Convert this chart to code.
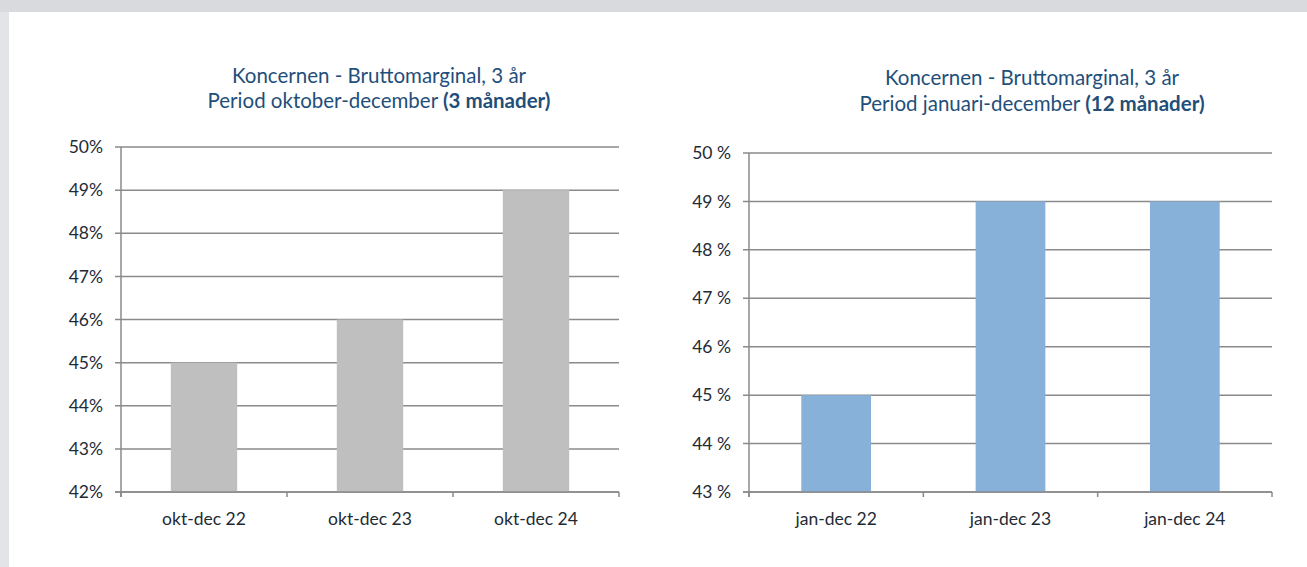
<!DOCTYPE html>
<html>
<head>
<meta charset="utf-8">
<script src="https://cdn.jsdelivr.net/npm/d3@7"></script>
<style>
  body { margin: 0; background: #e3e4e7; }
  svg { display: block; }
  text { font-family: Lato, "Open Sans", sans-serif; }
</style>
</head>
<body>
<div class="container"></div>
<script>
// data
var leftCategories = ["okt-dec 22", "okt-dec 23", "okt-dec 24"];
var leftValues = [45, 46, 49];
var leftTicks = [42, 43, 44, 45, 46, 47, 48, 49, 50];

var rightCategories = ["jan-dec 22", "jan-dec 23", "jan-dec 24"];
var rightValues = [45, 49, 49];
var rightTicks = [43, 44, 45, 46, 47, 48, 49, 50];

var titleLine1 = "Koncernen - Bruttomarginal, 3 år";
var leftTitle2 = ["Period oktober-december ", "(3 månader)"];
var rightTitle2 = ["Period januari-december ", "(12 månader)"];

var width = 1307;
var height = 567;

var svg = d3
  .select(".container")
  .append("svg")
  .attr("width", width)
  .attr("height", height);

// page background, white sheet
svg.append("rect").attr("width", width).attr("height", height).attr("fill", "#e3e4e7");
svg.append("rect").attr("x", 0).attr("y", 0).attr("width", width).attr("height", 12).attr("fill", "#d9dadd");
svg.append("rect").attr("x", 9).attr("y", 12).attr("width", width - 9).attr("height", height - 12).attr("fill", "#fff");

function drawChart(opt) {
  var g = svg.append("g");

  var x = d3
    .scaleBand()
    .domain(opt.categories)
    .range([opt.left, opt.right])
    .paddingInner(0.6)
    .paddingOuter(0.3);

  var y = d3
    .scaleLinear()
    .domain([opt.ticks[0], opt.ticks[opt.ticks.length - 1]])
    .range([opt.bottom, opt.top]);

  // titles
  var title = g
    .append("text")
    .attr("x", opt.titleX)
    .attr("y", opt.titleY)
    .attr("text-anchor", "middle")
    .attr("fill", "#1f4f7a")
    .style("font-size", "20.5px");
  title.append("tspan").attr("x", opt.titleX).text(titleLine1);
  var t2 = title.append("tspan").attr("x", opt.titleX).attr("dy", opt.titleGap);
  t2.append("tspan").text(opt.title2[0]);
  t2.append("tspan").style("font-weight", "bold").text(opt.title2[1]);

  // gridlines
  g.selectAll("line.grid")
    .data(opt.ticks)
    .enter()
    .append("line")
    .attr("class", "grid")
    .attr("x1", opt.left - 6)
    .attr("x2", opt.right)
    .attr("y1", function (d) { return y(d); })
    .attr("y2", function (d) { return y(d); })
    .attr("stroke", "#8a8a8a")
    .attr("stroke-width", 1.5);

  // bars
  g.selectAll("rect.bar")
    .data(opt.values)
    .enter()
    .append("rect")
    .attr("class", "bar")
    .attr("x", function (d, i) { return x(opt.categories[i]); })
    .attr("width", x.bandwidth())
    .attr("y", function (d) { return y(d); })
    .attr("height", function (d) { return y(opt.ticks[0]) - y(d); })
    .attr("fill", opt.color);

  // y axis line
  g.append("line")
    .attr("x1", opt.left)
    .attr("x2", opt.left)
    .attr("y1", opt.top)
    .attr("y2", opt.bottom + 5)
    .attr("stroke", "#8a8a8a")
    .attr("stroke-width", 1.5);

  // x axis line and category ticks
  g.append("line")
    .attr("x1", opt.left - 6)
    .attr("x2", opt.right)
    .attr("y1", opt.bottom)
    .attr("y2", opt.bottom)
    .attr("stroke", "#8a8a8a")
    .attr("stroke-width", 1.5);

  var bounds = d3.range(opt.categories.length + 1).map(function (i) {
    return opt.left + i * x.step();
  });
  g.selectAll("line.xtick")
    .data(bounds)
    .enter()
    .append("line")
    .attr("class", "xtick")
    .attr("x1", function (d) { return d; })
    .attr("x2", function (d) { return d; })
    .attr("y1", opt.bottom)
    .attr("y2", opt.bottom + 5)
    .attr("stroke", "#8a8a8a")
    .attr("stroke-width", 1.5);

  // y labels
  g.selectAll("text.ylab")
    .data(opt.ticks)
    .enter()
    .append("text")
    .attr("class", "ylab")
    .attr("x", opt.left - 18)
    .attr("y", function (d) { return y(d); })
    .attr("dy", "0.35em")
    .attr("text-anchor", "end")
    .attr("fill", "#1e2b35")
    .style("font-size", "17.5px")
    .text(function (d) { return d + opt.suffix; });

  // x labels
  g.selectAll("text.xlab")
    .data(opt.categories)
    .enter()
    .append("text")
    .attr("class", "xlab")
    .attr("x", function (d) { return x(d) + x.bandwidth() / 2; })
    .attr("y", opt.bottom + 27)
    .attr("dy", "0.35em")
    .attr("text-anchor", "middle")
    .attr("fill", "#1e2b35")
    .style("font-size", "17.5px")
    .text(function (d) { return d; });
}

drawChart({
  categories: leftCategories,
  values: leftValues,
  ticks: leftTicks,
  suffix: "%",
  title2: leftTitle2,
  color: "#bfbfbf",
  left: 121,
  right: 619,
  top: 147,
  bottom: 492,
  titleX: 379,
  titleY: 83,
  titleGap: 25
});

drawChart({
  categories: rightCategories,
  values: rightValues,
  ticks: rightTicks,
  suffix: " %",
  title2: rightTitle2,
  color: "#87b1d9",
  left: 749,
  right: 1272,
  top: 153,
  bottom: 492,
  titleX: 1032,
  titleY: 85,
  titleGap: 26
});
</script>
</body>
</html>
